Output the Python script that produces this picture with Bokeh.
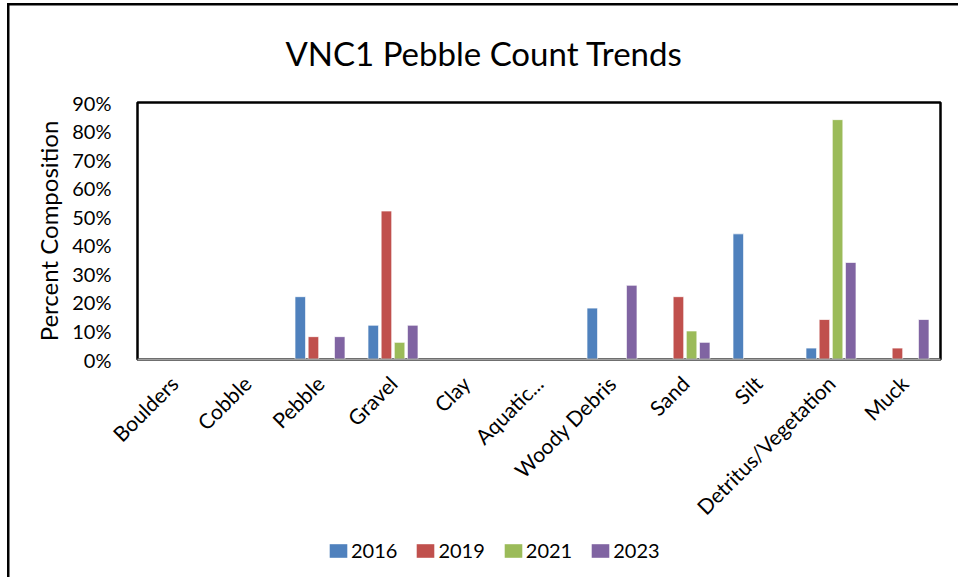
import math

from bokeh.embed import file_html
from bokeh.layouts import column
from bokeh.models import (ColumnDataSource, FactorRange, FixedTicker, Legend, LegendItem,
                          PrintfTickFormatter, Range1d, Title)
from bokeh.plotting import figure
from bokeh.resources import INLINE
from bokeh.transform import dodge

# Substrate categories along the x axis
categories = ["Boulders", "Cobble", "Pebble", "Gravel", "Clay", "Aquatic...",
              "Woody Debris", "Sand", "Silt", "Detritus/Vegetation", "Muck"]

# Survey years and their percent composition per category
years = ["2016", "2019", "2021", "2023"]
pct_2016 = [0, 0, 22, 12, 0, 0, 18, 0, 44, 4, 0]
pct_2019 = [0, 0, 8, 52, 0, 0, 0, 22, 0, 14, 4]
pct_2021 = [0, 0, 0, 6, 0, 0, 0, 10, 0, 84, 0]
pct_2023 = [0, 0, 8, 12, 0, 0, 26, 6, 0, 34, 14]

y_ticks = [0, 10, 20, 30, 40, 50, 60, 70, 80, 90]

colors = ["#4F81BD", "#C0504D", "#9BBB59", "#8064A2"]
offsets = [-0.27, -0.09, 0.09, 0.27]
FONT = "Lato"

# chart-area border (left and top edges) painted behind transparent canvases
chart_border = ("linear-gradient(#000, #000) 7px 3px / 2.5px 100% no-repeat, "
                "linear-gradient(#000, #000) 7px 3px / 100% 2.5px no-repeat, #fff")

p = figure(width=958, height=530, output_backend="svg", toolbar_location=None,
           x_range=FactorRange(*categories), y_range=Range1d(0, 90),
           min_border_left=137, min_border_right=18,
           min_border_top=102, min_border_bottom=170)
p.background_fill_color = "white"
p.border_fill_color = None
p.outline_line_color = "black"
p.outline_line_width = 2.5
p.xgrid.grid_line_color = None
p.ygrid.grid_line_color = None

p.title = Title(text="VNC1 Pebble Count Trends", align="left", offset=148,
                standoff=60, text_font=FONT, text_font_size="33px",
                text_font_style="normal", text_color="black")

series = [pct_2016, pct_2019, pct_2021, pct_2023]
for year, vals, color, off in zip(years, series, colors, offsets):
    # zero entries are left out so no empty bar is drawn
    cats = [c for c, v in zip(categories, vals) if v > 0]
    tops = [v for v in vals if v > 0]
    src = ColumnDataSource(dict(x=cats, top=tops))
    p.vbar(x=dodge("x", off, range=p.x_range), top="top", width=0.145,
           source=src, fill_color=color, line_color="white",
           line_alpha=0.7, line_width=1)

# y axis
p.yaxis.ticker = FixedTicker(ticks=y_ticks)
p.yaxis.formatter = PrintfTickFormatter(format="%d%%")
p.yaxis.axis_line_color = None
p.yaxis.major_tick_line_color = None
p.yaxis.minor_tick_line_color = None
p.yaxis.major_label_standoff = 20
p.yaxis.major_label_text_font = FONT
p.yaxis.major_label_text_font_size = "20px"
p.yaxis.major_label_text_color = "black"
p.yaxis.axis_label = "Percent Composition"
p.yaxis.axis_label_text_font = FONT
p.yaxis.axis_label_text_font_style = "normal"
p.yaxis.axis_label_text_font_size = "24px"
p.yaxis.axis_label_text_color = "black"
p.yaxis.axis_label_standoff = 6

# x axis
p.xaxis.axis_line_color = "#a0a0a0"
p.xaxis.axis_line_width = 2
p.xaxis.major_tick_line_color = None
p.xaxis.minor_tick_line_color = None
p.xaxis.major_label_orientation = math.pi / 4
p.xaxis.major_label_standoff = 14
p.xaxis.major_label_text_font = FONT
p.xaxis.major_label_text_font_size = "21px"
p.xaxis.major_label_text_color = "black"

# legend strip under the category labels (its frame lines up with the chart's)
lf = figure(width=958, height=47, output_backend="svg", toolbar_location=None,
            x_range=Range1d(0, len(years)), y_range=Range1d(0, 1),
            x_axis_type=None, y_axis_type=None, min_border=0)
lf.title = None
lf.background_fill_color = None
lf.border_fill_color = None
lf.outline_line_color = None
lf.xgrid.grid_line_color = None
lf.ygrid.grid_line_color = None
items = []
for i, (year, color) in enumerate(zip(years, colors)):
    # zero-height key bar: carries the swatch colour, draws nothing itself
    key = lf.vbar(x=[i + 0.5], top=[0], width=0.1, fill_color=color, line_color=None)
    items.append(LegendItem(label=year, renderers=[key]))
legend = Legend(items=items, orientation="horizontal", location=(190, 15),
                glyph_width=22, glyph_height=17, label_standoff=2, spacing=17,
                padding=0, margin=0, border_line_color=None,
                background_fill_alpha=0, label_text_font=FONT,
                label_text_font_size="20px", label_text_color="black")
lf.add_layout(legend, "center")

page = column(p, lf, spacing=0, styles={"background": chart_border})

open("out.html", "w").write(file_html(page, INLINE))
